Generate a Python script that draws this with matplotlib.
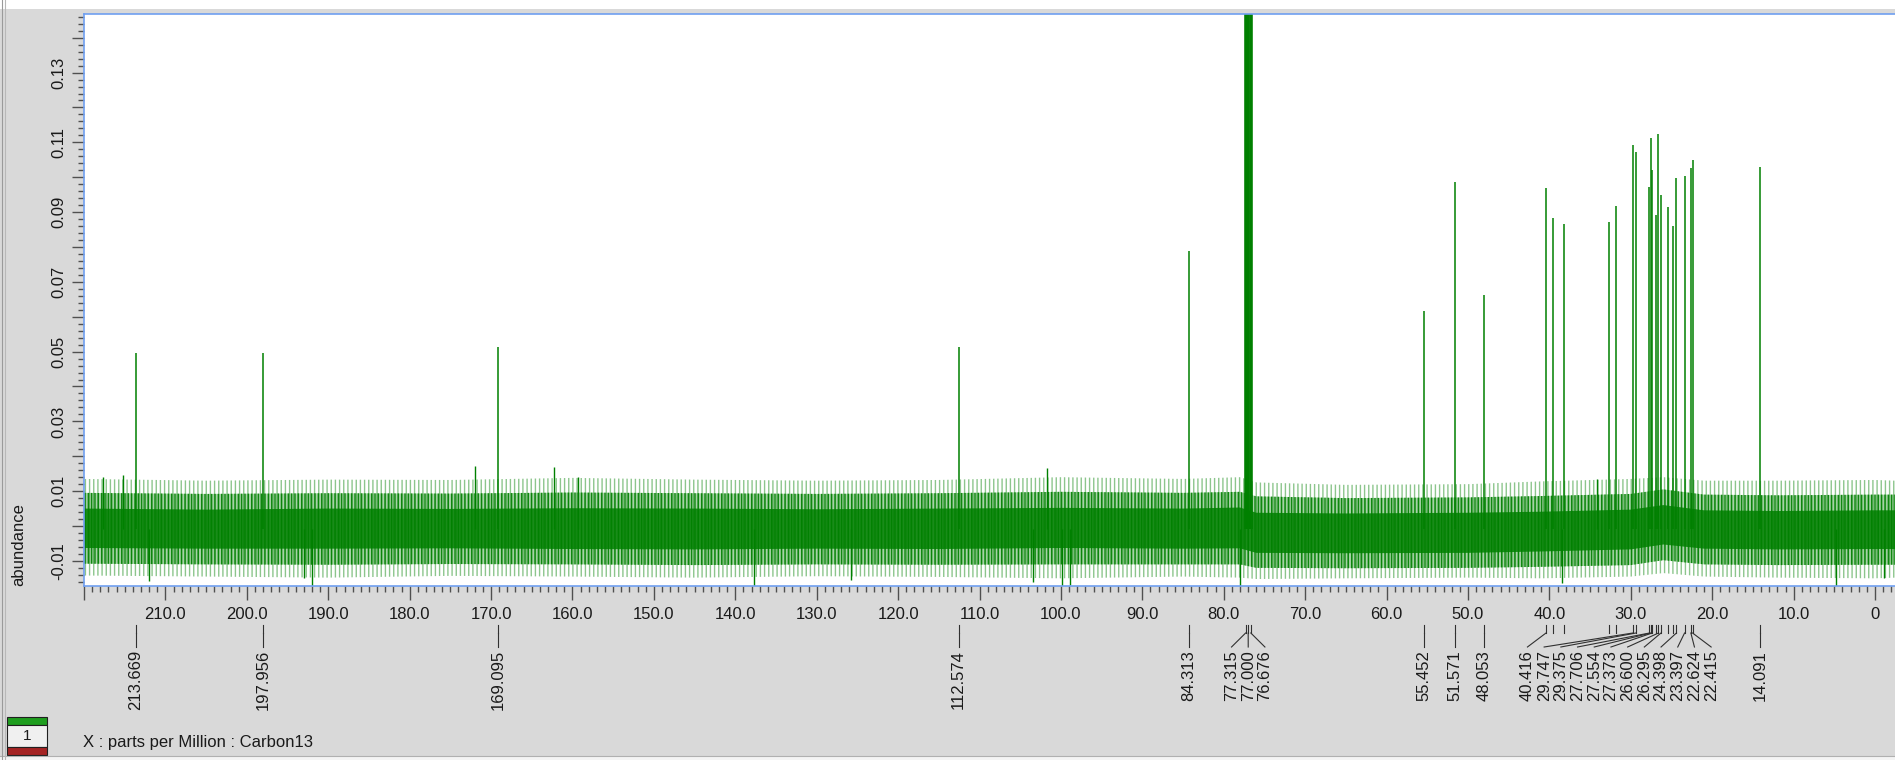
import matplotlib
matplotlib.use("Agg")
import matplotlib.pyplot as plt
from matplotlib.ticker import MultipleLocator
from matplotlib.lines import Line2D
from matplotlib.patches import Rectangle

plt.rcParams['font.family'] = ['Liberation Sans', 'DejaVu Sans']
plt.rcParams['hatch.linewidth'] = 1.0

# ---------------- data ----------------
peak_ppm = [213.669, 197.956, 169.095, 112.574, 84.313, 77.315, 77.000, 76.676,
            55.452, 51.571, 48.053, 40.416, 39.56, 38.21, 32.68, 31.82, 29.747, 29.375,
            27.706, 27.554, 27.373, 26.90, 26.600, 26.295, 25.43, 24.82, 24.398, 23.397,
            22.624, 22.415, 14.091]
peak_height = [0.0496, 0.0496, 0.0513, 0.0513, 0.0789, 0.30, 0.32, 0.30,
               0.0617, 0.0986, 0.0662, 0.0969, 0.0882, 0.0865, 0.0872, 0.0917, 0.1093, 0.1072,
               0.0973, 0.1112, 0.1021, 0.0892, 0.1125, 0.0949, 0.0915, 0.0861, 0.0997, 0.1004,
               0.1027, 0.1050, 0.1030]

label_groups = [[213.669], [197.956], [169.095], [112.574], [84.313],
                [77.315, 77.000, 76.676], [55.452], [51.571], [48.053],
                [40.416, 29.747, 29.375, 27.706, 27.554, 27.373, 26.600, 26.295,
                 24.398, 23.397, 22.624, 22.415],
                [14.091]]

baseline_level = -0.001

# noise band envelope
noise_ppm = [220.0, 205.0, 190.0, 175.0, 160.0, 145.0, 130.0, 115.0, 100.0, 85.0, 78.0,
             76.0, 65.0, 50.0, 41.0, 30.0, 26.0, 21.0, 12.0, 0.0, -2.5]
inner_hi = [0.0050, 0.0047, 0.0050, 0.0049, 0.0051, 0.0050, 0.0048, 0.0050, 0.0052, 0.0050, 0.0053,
            0.0038, 0.0036, 0.0038, 0.0041, 0.0047, 0.0060, 0.0045, 0.0043, 0.0045, 0.0045]
inner_lo = [-0.0063, -0.0065, -0.0065, -0.0064, -0.0066, -0.0067, -0.0065, -0.0066, -0.0063, -0.0065, -0.0064,
            -0.0077, -0.0078, -0.0077, -0.0073, -0.0067, -0.0053, -0.0065, -0.0067, -0.0066, -0.0066]
mid_hi = [0.0095, 0.0092, 0.0094, 0.0093, 0.0096, 0.0094, 0.0092, 0.0094, 0.0098, 0.0095, 0.0098,
          0.0085, 0.0080, 0.0082, 0.0086, 0.0092, 0.0105, 0.0090, 0.0088, 0.0090, 0.0090]
mid_lo = [-0.0108, -0.0110, -0.0111, -0.0109, -0.0110, -0.0112, -0.0110, -0.0111, -0.0110, -0.0110, -0.0110,
          -0.0120, -0.0121, -0.0120, -0.0117, -0.0112, -0.0098, -0.0110, -0.0112, -0.0111, -0.0111]
outer_hi = [0.0135, 0.0130, 0.0133, 0.0132, 0.0138, 0.0133, 0.0130, 0.0132, 0.0140, 0.0135, 0.0140,
            0.0125, 0.0118, 0.0120, 0.0128, 0.0135, 0.0140, 0.0130, 0.0130, 0.0132, 0.0130]
outer_lo = [-0.0142, -0.0145, -0.0148, -0.0143, -0.0145, -0.0148, -0.0144, -0.0146, -0.0150, -0.0145, -0.0148,
            -0.0152, -0.0150, -0.0148, -0.0150, -0.0145, -0.0135, -0.0145, -0.0148, -0.0150, -0.0148]

# isolated noise spikes visible in the picture
spike_ppm = [217.7, 215.2, 212.0, 193.0, 192.0, 172.0, 162.3, 159.3, 137.7, 125.8,
             103.4, 101.7, 99.9, 98.9, 78.0, 38.5, 34.2, 4.8, -1.1]
spike_val = [0.0141, 0.0146, -0.0158, -0.0150, -0.0172, 0.0171, 0.0169, 0.0141, -0.0172, -0.0155,
             -0.0160, 0.0165, -0.0172, -0.0170, -0.0172, -0.0162, 0.0136, -0.0172, -0.0150]

x_tick_values = [220, 210, 200, 190, 180, 170, 160, 150, 140, 130, 120, 110,
                 100, 90, 80, 70, 60, 50, 40, 30, 20, 10, 0]
x_tick_labels = ['', '210.0', '200.0', '190.0', '180.0', '170.0', '160.0', '150.0', '140.0',
                 '130.0', '120.0', '110.0', '100.0', '90.0', '80.0', '70.0', '60.0', '50.0',
                 '40.0', '30.0', '20.0', '10.0', '0']
y_tick_values = [-0.01, 0.00, 0.01, 0.02, 0.03, 0.04, 0.05, 0.06, 0.07, 0.08,
                 0.09, 0.10, 0.11, 0.12, 0.13, 0.14]
y_tick_labels = ['-0.01', '', '0.01', '', '0.03', '', '0.05', '', '0.07', '',
                 '0.09', '', '0.11', '', '0.13', '']

x_title = 'X : parts per Million : Carbon13'
y_title = 'abundance'

# ---------------- figure ----------------
W, H = 1895, 760
GREEN = '#008000'
BG = '#d9d9d9'
TXT = '#1a1a1a'

fig = plt.figure(figsize=(W / 100, H / 100), dpi=100, facecolor=BG)


def fp(x, y):
    """pixel (from top-left) -> figure fraction"""
    return x / W, 1 - y / H


ax_left, ax_top, ax_bottom = 84, 14, 586
ax = fig.add_axes([ax_left / W, 1 - ax_bottom / H, (W - ax_left) / W, (ax_bottom - ax_top) / H])
ax.set_facecolor('white')
ax.set_xlim(220.0, -2.45)
ax.set_ylim(-0.0172, 0.1468)

# noise band: textured outer/mid layers (vertical hatching) and a denser core
ax.fill_between(noise_ppm, outer_lo, outer_hi, facecolor='none', edgecolor=(0, 0.5, 0, 0.45),
                hatch='||||', lw=0)
ax.fill_between(noise_ppm, mid_lo, mid_hi, facecolor=(0, 0.5, 0, 0.35), edgecolor=(0, 0.5, 0, 0.9),
                hatch='|||||', lw=0)
ax.fill_between(noise_ppm, inner_lo, inner_hi, facecolor=(0, 0.5, 0, 0.85), edgecolor='none', lw=0)
ax.vlines(spike_ppm, baseline_level, spike_val, color=GREEN, lw=1.0)

# peaks (off-scale solvent lines drawn broader, as in the reference)
ytop = ax.get_ylim()[1]
peak_lw = [2.6 if h > ytop else 1.1 for h in peak_height]
ax.vlines(peak_ppm, baseline_level, peak_height, color=GREEN, linewidths=peak_lw)

# spines
for s in ['top', 'left', 'bottom']:
    ax.spines[s].set_color('#6f9ff0')
    ax.spines[s].set_linewidth(1.2)
ax.spines['right'].set_visible(False)

# ticks
ax.set_xticks(x_tick_values, x_tick_labels)
ax.xaxis.set_minor_locator(MultipleLocator(1))
ax.tick_params(axis='x', which='major', direction='out', length=10, width=1,
               color='#505050', pad=5, labelsize=12, labelcolor=TXT)
ax.tick_params(axis='x', which='minor', direction='out', length=4, width=1, color='#505050')

ax.set_yticks(y_tick_values, y_tick_labels, rotation=90, va='center')
ax.yaxis.set_minor_locator(MultipleLocator(0.002))
ax.tick_params(axis='y', which='major', direction='out', length=9, width=1,
               color='#505050', pad=4, labelsize=12, labelcolor=TXT)
ax.tick_params(axis='y', which='minor', direction='out', length=4, width=1, color='#505050')

# axis titles
fig.text(*fp(19, ax_bottom), y_title, rotation=90, ha='center', va='bottom',
         fontsize=12, color=TXT)
fig.text(*fp(83, 742), x_title, ha='left', va='center', fontsize=12, color=TXT)

# peak labels with leader lines
mark_top, mark_bot, lead_end, text_top = 625, 633, 647, 650
spacing = 16.7
LC = '#303030'


def xpix(ppm):
    return ax.transData.transform((ppm, 0))[0]


for p in peak_ppm:
    xp = xpix(p)
    fig.add_artist(Line2D([xp / W, xp / W], [1 - mark_top / H, 1 - mark_bot / H],
                          transform=fig.transFigure, color=LC, lw=0.8))

for group in label_groups:
    xs = sorted([(xpix(p), p) for p in group])
    center = (xs[0][0] + xs[-1][0]) / 2
    n = len(xs)
    for i, (xp, p) in enumerate(xs):
        lx = center + (i - (n - 1) / 2) * spacing
        fig.add_artist(Line2D([xp / W, lx / W], [1 - mark_bot / H, 1 - lead_end / H],
                              transform=fig.transFigure, color=LC, lw=0.8))
        fig.text(*fp(lx, text_top), f"{p:.3f}", rotation=90, ha='center', va='top',
                 fontsize=12, color=TXT)

# window chrome
fig.add_artist(Rectangle(fp(0, 9), 1, 9 / H, transform=fig.transFigure,
                         facecolor='white', edgecolor='none'))
fig.add_artist(Rectangle(fp(0, H), 1, 4 / H, transform=fig.transFigure,
                         facecolor='#f4f4f4', edgecolor='none'))
fig.add_artist(Line2D([0, 1], [4 / H, 4 / H], transform=fig.transFigure, color='#b0b0b0', lw=0.8))
fig.add_artist(Line2D([1.5 / W, 1.5 / W], [0, 1], transform=fig.transFigure, color='#9a9a9a', lw=0.8))
fig.add_artist(Line2D([4.5 / W, 4.5 / W], [0, 1], transform=fig.transFigure, color='#b8b8b8', lw=0.8))

# small legend widget (bottom-left)
wx0, wx1 = 7, 47
fig.add_artist(Rectangle(fp(wx0, 725), (wx1 - wx0) / W, 8 / H, transform=fig.transFigure,
                         facecolor='#1f9e1f', edgecolor='#202020', lw=0.8))
fig.add_artist(Rectangle(fp(wx0, 747), (wx1 - wx0) / W, 22 / H, transform=fig.transFigure,
                         facecolor='#f0f0f0', edgecolor='#202020', lw=0.8))
fig.add_artist(Rectangle(fp(wx0, 755), (wx1 - wx0) / W, 8 / H, transform=fig.transFigure,
                         facecolor='#a52424', edgecolor='#202020', lw=0.8))
fig.text(*fp(27, 736), '1', ha='center', va='center', fontsize=11, color=TXT)

fig.savefig('out.png', dpi=100, facecolor=BG)
